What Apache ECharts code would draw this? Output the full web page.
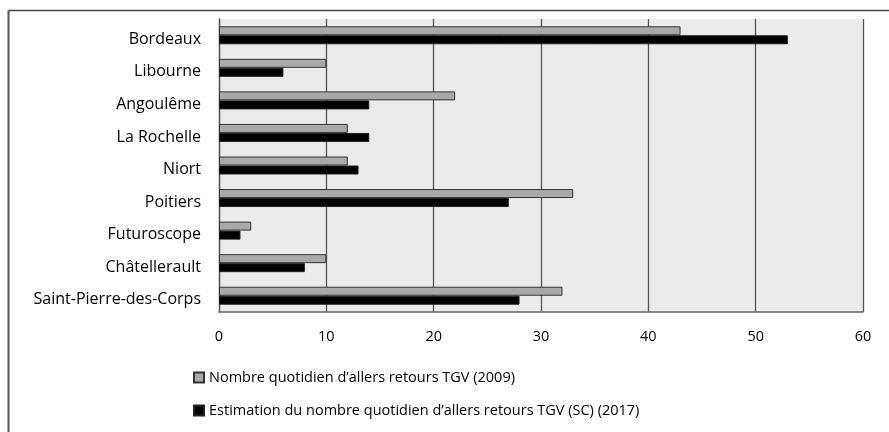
<!DOCTYPE html>
<html><head><meta charset="utf-8">
<script src="https://cdn.jsdelivr.net/npm/echarts@6/dist/echarts.min.js"></script>
<style>html,body{margin:0;padding:0;background:#fff}#c{width:889px;height:432px}</style>
</head><body><div id="c"></div>
<script>
const categories = ["Bordeaux","Libourne","Angoulême","La Rochelle","Niort","Poitiers","Futuroscope","Châtellerault","Saint-Pierre-des-Corps"];
const values2009 = [43,10,22,12,12,33,3,10,32];
const values2017 = [53,6,14,14,13,27,2,8,28];
const xTicks = [0,10,20,30,40,50,60];
const seriesNames = ["Nombre quotidien d’allers retours TGV (2009)","Estimation du nombre quotidien d’allers retours TGV (SC) (2017)"];

const FONT = "Open Sans";
const chart = echarts.init(document.getElementById('c'), null, {renderer:'canvas'});
chart.setOption({
  animation:false,
  backgroundColor:'#fff',
  textStyle:{fontFamily:FONT},
  graphic:[
    {type:'line', shape:{x1:8.5,y1:10.5,x2:889,y2:10.5}, style:{stroke:'#444',lineWidth:1.5}},
    {type:'line', shape:{x1:8.5,y1:10.5,x2:8.5,y2:432}, style:{stroke:'#555',lineWidth:2}}
  ],
  grid:{left:219,right:26,top:19,bottom:120,show:true,backgroundColor:'#ebebeb',borderWidth:0},
  legend:{
    orient:'vertical', left:188, top:365, itemGap:18,
    itemWidth:10, itemHeight:10, icon:'rect',
    textStyle:{fontFamily:FONT,fontSize:14.5,color:'#000'},
    data:seriesNames
  },
  xAxis:{
    type:'value', min:xTicks[0], max:xTicks[xTicks.length-1], interval:10,
    axisLine:{show:true,lineStyle:{color:'#666',width:1.5}},
    axisTick:{show:false},
    axisLabel:{fontFamily:FONT,fontSize:14.5,color:'#000',margin:17},
    splitLine:{show:true,lineStyle:{color:'#555',width:1.3}}
  },
  yAxis:{
    type:'category', data:categories, inverse:true,
    axisLine:{show:true,lineStyle:{color:'#555',width:1.3}},
    axisTick:{show:false},
    axisLabel:{fontFamily:FONT,fontSize:16,color:'#000',margin:18,verticalAlign:'top',padding:[-4,0,0,0]}
  },
  series:[
    {name:seriesNames[0], type:'bar', data:values2009, barWidth:9, barGap:'0%',
     itemStyle:{color:'#a9a9a9',borderColor:'#333',borderWidth:1}},
    {name:seriesNames[1], type:'bar', data:values2017, barWidth:9, barGap:'0%',
     itemStyle:{color:'#000',borderColor:'#222',borderWidth:1}}
  ]
});
</script></body></html>
